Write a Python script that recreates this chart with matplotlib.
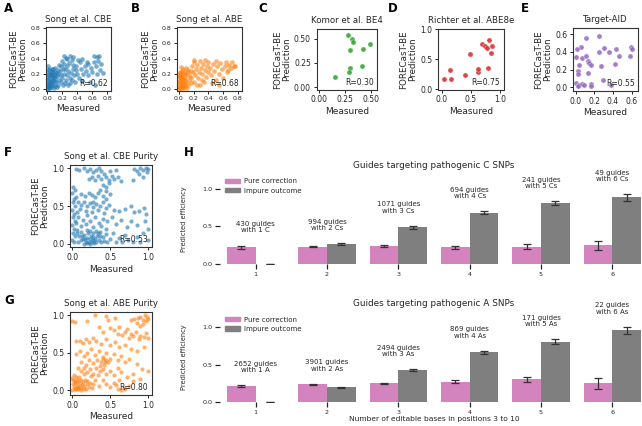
import numpy as np
import matplotlib
matplotlib.use("Agg")
import matplotlib.pyplot as plt
from matplotlib.patches import Patch

W, H = 642, 426
TXT = '#262626'

# ---------------------------------------------------------------
# scatter data
# ---------------------------------------------------------------
cbe_pts = [
    (0.0, 0.0), (0.01, 0.02), (0.02, 0.05), (0.0, 0.08), (0.03, 0.1), (0.01, 0.13), (0.04, 0.15),
    (0.02, 0.18), (0.05, 0.2), (0.0, 0.22), (0.03, 0.25), (0.06, 0.27), (0.01, 0.3), (0.05, 0.03),
    (0.07, 0.07), (0.08, 0.12), (0.06, 0.16), (0.09, 0.19), (0.1, 0.23), (0.08, 0.26), (0.11, 0.04),
    (0.12, 0.09), (0.1, 0.14), (0.13, 0.17), (0.12, 0.21), (0.14, 0.25), (0.04, 0.01), (0.09, 0.01),
    (0.13, 0.03), (0.02, 0.11), (0.07, 0.22), (0.11, 0.28), (0.15, 0.06), (0.16, 0.12), (0.15, 0.2),
    (0.0, 0.16), (0.04, 0.06), (0.06, 0.11), (0.03, 0.2), (0.09, 0.16), (0.01, 0.06), (0.05, 0.09),
    (0.07, 0.18), (0.02, 0.27), (0.08, 0.05), (0.11, 0.11), (0.03, 0.03), (0.06, 0.23),
    (0.18, 0.1), (0.2, 0.15), (0.17, 0.24), (0.22, 0.2), (0.19, 0.3), (0.24, 0.27), (0.21, 0.05),
    (0.25, 0.12), (0.27, 0.18), (0.23, 0.33), (0.28, 0.24), (0.3, 0.15), (0.26, 0.3), (0.32, 0.21),
    (0.29, 0.34), (0.31, 0.08), (0.34, 0.27), (0.33, 0.12), (0.36, 0.19), (0.35, 0.32), (0.38, 0.25),
    (0.37, 0.1), (0.4, 0.2), (0.39, 0.3), (0.2, 0.37), (0.25, 0.41), (0.22, 0.43), (0.3, 0.43),
    (0.35, 0.42), (0.33, 0.38), (0.27, 0.39), (0.18, 0.18), (0.21, 0.26), (0.16, 0.32), (0.24, 0.08),
    (0.28, 0.05),
    (0.42, 0.15), (0.45, 0.27), (0.44, 0.35), (0.48, 0.2), (0.5, 0.3), (0.47, 0.11), (0.52, 0.24),
    (0.55, 0.18), (0.53, 0.36), (0.58, 0.28), (0.6, 0.22), (0.62, 0.35), (0.63, 0.43), (0.65, 0.3),
    (0.67, 0.42), (0.68, 0.37), (0.7, 0.25), (0.66, 0.2), (0.72, 0.33), (0.75, 0.21), (0.57, 0.1),
    (0.64, 0.06), (0.69, 0.43), (0.46, 0.4), (0.41, 0.38), (0.55, 0.33),
]
abe_pts = [
    (0.0, 0.0), (0.01, 0.03), (0.0, 0.06), (0.02, 0.09), (0.01, 0.12), (0.03, 0.15), (0.0, 0.18),
    (0.02, 0.21), (0.04, 0.24), (0.05, 0.02), (0.06, 0.06), (0.04, 0.1), (0.07, 0.13), (0.05, 0.17),
    (0.08, 0.2), (0.06, 0.26), (0.09, 0.04), (0.1, 0.09), (0.08, 0.15), (0.11, 0.18), (0.12, 0.22),
    (0.1, 0.28), (0.13, 0.06), (0.14, 0.12), (0.03, 0.04), (0.07, 0.01), (0.11, 0.02), (0.02, 0.16),
    (0.09, 0.11), (0.01, 0.22), (0.15, 0.17), (0.13, 0.25), (0.03, 0.29), (0.06, 0.2), (0.16, 0.08),
    (0.04, 0.07), (0.0, 0.1), (0.02, 0.01), (0.05, 0.13), (0.07, 0.07), (0.03, 0.19), (0.09, 0.22),
    (0.01, 0.16), (0.06, 0.03),
    (0.17, 0.14), (0.19, 0.22), (0.18, 0.3), (0.21, 0.1), (0.22, 0.18), (0.23, 0.26), (0.2, 0.35),
    (0.25, 0.31), (0.26, 0.15), (0.27, 0.22), (0.28, 0.37), (0.3, 0.28), (0.31, 0.12), (0.32, 0.2),
    (0.33, 0.33), (0.35, 0.25), (0.36, 0.38), (0.37, 0.16), (0.38, 0.3), (0.4, 0.22), (0.24, 0.06),
    (0.29, 0.05), (0.34, 0.09), (0.21, 0.38), (0.16, 0.24), (0.39, 0.35),
    (0.42, 0.28), (0.44, 0.18), (0.46, 0.33), (0.48, 0.24), (0.5, 0.12), (0.52, 0.3), (0.54, 0.2),
    (0.56, 0.34), (0.58, 0.26), (0.6, 0.15), (0.62, 0.3), (0.64, 0.35), (0.66, 0.25), (0.68, 0.32),
    (0.7, 0.28), (0.72, 0.35), (0.74, 0.3), (0.76, 0.3), (0.45, 0.08), (0.55, 0.06), (0.65, 0.22),
    (0.5, 0.37),
]
be4_x = [0.16, 0.283, 0.32, 0.33, 0.30, 0.42, 0.49, 0.30, 0.293, 0.414]
be4_y = [0.10, 0.54, 0.50, 0.47, 0.38, 0.39, 0.45, 0.20, 0.16, 0.22]

abe8e_x = [0.045, 0.14, 0.165, 0.41, 0.485, 0.63, 0.63, 0.69, 0.75, 0.78, 0.82, 0.86, 0.845, 0.80]
abe8e_y = [0.17, 0.32, 0.17, 0.24, 0.59, 0.29, 0.34, 0.76, 0.72, 0.68, 0.82, 0.72, 0.60, 0.35]

taid_x = [0.054, 0.018, 0.108, 0.252, 0.30, 0.353, 0.432, 0.252, 0.595, 0.61, 0.468, 0.007, 0.065,
          0.115, 0.133, 0.036, 0.137, 0.162, 0.267, 0.42, 0.58, 0.025, 0.025, 0.133, 0.0, 0.036,
          0.025, 0.065, 0.09, 0.162, 0.162, 0.29, 0.378]
taid_y = [0.454, 0.435, 0.559, 0.585, 0.44, 0.405, 0.435, 0.40, 0.454, 0.43, 0.36, 0.341, 0.337,
          0.356, 0.30, 0.255, 0.28, 0.257, 0.243, 0.266, 0.36, 0.18, 0.153, 0.16, 0.048, 0.026,
          0.018, 0.037, 0.026, 0.04, 0.02, 0.079, 0.03]

cbe_pur_pts = [
    (0.05, 0.99), (0.09, 0.98), (0.16, 1.0), (0.2, 0.97), (0.24, 0.99), (0.28, 0.95), (0.31, 0.98),
    (0.35, 1.0), (0.38, 0.97), (0.42, 0.93), (0.5, 0.96), (0.58, 0.98), (0.82, 0.99), (0.86, 0.97),
    (0.9, 1.0), (0.94, 0.98), (0.97, 1.0), (1.0, 0.99), (0.99, 0.95), (0.88, 0.93),
    (0.22, 0.86), (0.26, 0.88), (0.3, 0.84), (0.34, 0.9), (0.38, 0.86), (0.44, 0.88), (0.48, 0.85),
    (0.52, 0.9), (0.55, 0.86), (0.6, 0.88), (0.65, 0.83), (0.4, 0.78), (0.44, 0.75), (0.48, 0.8),
    (0.93, 0.88), (0.8, 0.85), (0.36, 0.72),
    (0.01, 0.75), (0.03, 0.72), (0.0, 0.68), (0.02, 0.6), (0.01, 0.55), (0.03, 0.5), (0.0, 0.45),
    (0.02, 0.4), (0.01, 0.35), (0.03, 0.3), (0.0, 0.25), (0.02, 0.2), (0.01, 0.15), (0.03, 0.1),
    (0.0, 0.05), (0.02, 0.02), (0.05, 0.62), (0.06, 0.42), (0.05, 0.28), (0.06, 0.18),
    (0.12, 0.66), (0.17, 0.63), (0.22, 0.68), (0.26, 0.65), (0.3, 0.62), (0.34, 0.67), (0.4, 0.64),
    (0.45, 0.6), (0.5, 0.66), (0.28, 0.56), (0.45, 0.7),
    (0.08, 0.55), (0.12, 0.52), (0.16, 0.56), (0.2, 0.5), (0.24, 0.54), (0.28, 0.49), (0.32, 0.53),
    (0.36, 0.5), (0.4, 0.55), (0.44, 0.48), (0.48, 0.52), (0.1, 0.46), (0.18, 0.44), (0.26, 0.42),
    (0.34, 0.45), (0.42, 0.41), (0.55, 0.45), (0.62, 0.43), (0.7, 0.46), (0.78, 0.5), (0.82, 0.42),
    (0.88, 0.44), (0.95, 0.48), (0.98, 0.4),
    (0.08, 0.36), (0.14, 0.32), (0.2, 0.38), (0.24, 0.3), (0.3, 0.35), (0.35, 0.28), (0.4, 0.33),
    (0.46, 0.3), (0.52, 0.36), (0.58, 0.26), (0.64, 0.32), (0.72, 0.22), (0.78, 0.3), (0.85, 0.25),
    (0.96, 0.3), (0.12, 0.24), (0.18, 0.27), (0.28, 0.22), (0.38, 0.24), (0.45, 0.2), (1.0, 0.2),
    (0.06, 0.14), (0.09, 0.1), (0.12, 0.16), (0.14, 0.06), (0.16, 0.12), (0.18, 0.03), (0.2, 0.08),
    (0.21, 0.15), (0.22, 0.02), (0.24, 0.06), (0.25, 0.11), (0.26, 0.03), (0.28, 0.14), (0.3, 0.07),
    (0.32, 0.02), (0.33, 0.11), (0.35, 0.05), (0.37, 0.16), (0.38, 0.02), (0.4, 0.09), (0.42, 0.04),
    (0.44, 0.13), (0.46, 0.02), (0.5, 0.06), (0.54, 0.15), (0.58, 0.03), (0.62, 0.08), (0.66, 0.02),
    (0.7, 0.12), (0.74, 0.05), (0.8, 0.03), (0.86, 0.09), (0.9, 0.02), (0.94, 0.14), (1.0, 0.05),
    (0.08, 0.02), (0.11, 0.05), (0.15, 0.0), (0.19, 0.18), (0.23, 0.0), (0.27, 0.09), (0.29, 0.01),
    (0.31, 0.17), (0.36, 0.1), (0.13, 0.1), (0.17, 0.07), (0.2, 0.01), (0.24, 0.17), (0.28, 0.05),
    (0.34, 0.14),
]
abe_pur_pts = [
    (0.0, 0.92), (0.03, 0.91), (0.2, 0.92), (0.3, 1.0), (0.45, 0.99), (0.47, 0.94), (0.56, 0.96),
    (0.78, 0.93), (0.82, 0.95), (0.85, 0.9), (0.87, 0.96), (0.9, 0.98), (0.93, 0.94), (0.96, 1.0),
    (0.99, 0.98), (0.98, 0.92), (1.0, 0.95), (0.94, 0.88), (0.9, 0.86),
    (0.5, 0.83), (0.55, 0.8), (0.6, 0.75), (0.62, 0.84), (0.66, 0.74), (0.7, 0.77), (0.72, 0.81),
    (0.75, 0.7), (0.78, 0.75), (0.8, 0.72), (0.84, 0.78), (0.88, 0.68), (0.9, 0.72), (0.95, 0.71),
    (1.0, 0.7), (0.98, 0.76), (0.4, 0.78), (0.35, 0.84),
    (0.05, 0.65), (0.1, 0.66), (0.14, 0.63), (0.18, 0.68), (0.22, 0.64), (0.27, 0.7), (0.32, 0.66),
    (0.38, 0.62), (0.44, 0.68), (0.5, 0.6), (0.56, 0.64), (0.62, 0.58), (0.7, 0.6), (0.78, 0.55),
    (0.86, 0.52), (0.95, 0.58),
    (0.05, 0.48), (0.1, 0.52), (0.15, 0.45), (0.2, 0.5), (0.25, 0.55), (0.3, 0.47), (0.35, 0.52),
    (0.4, 0.44), (0.45, 0.5), (0.5, 0.42), (0.55, 0.48), (0.6, 0.4), (0.65, 0.45), (0.7, 0.38),
    (0.75, 0.42), (0.85, 0.35), (0.12, 0.38), (0.18, 0.34), (0.22, 0.4), (0.28, 0.36), (0.33, 0.4),
    (0.38, 0.38), (0.42, 0.34), (0.47, 0.38), (0.36, 0.32), (0.44, 0.4), (0.4, 0.42), (0.43, 0.37),
    (0.08, 0.3), (0.12, 0.26), (0.16, 0.3), (0.2, 0.24), (0.24, 0.28), (0.28, 0.22), (0.32, 0.3),
    (0.36, 0.25), (0.4, 0.28), (0.45, 0.22), (0.5, 0.26), (0.55, 0.2), (0.6, 0.3), (0.65, 0.24),
    (0.72, 0.18), (0.8, 0.22), (0.92, 0.28), (0.15, 0.22), (0.25, 0.19), (0.34, 0.2),
    (0.0, 0.0), (0.02, 0.04), (0.01, 0.08), (0.03, 0.12), (0.0, 0.16), (0.02, 0.2), (0.05, 0.02),
    (0.06, 0.06), (0.04, 0.1), (0.07, 0.14), (0.05, 0.18), (0.08, 0.01), (0.09, 0.05), (0.1, 0.09),
    (0.11, 0.13), (0.09, 0.17), (0.12, 0.03), (0.13, 0.07), (0.14, 0.11), (0.15, 0.02), (0.16, 0.06),
    (0.17, 0.14), (0.18, 0.01), (0.19, 0.08), (0.2, 0.12), (0.22, 0.04), (0.24, 0.1), (0.26, 0.03),
    (0.28, 0.08), (0.3, 0.13), (0.03, 0.01), (0.07, 0.03), (0.01, 0.13), (0.11, 0.0), (0.06, 0.11),
    (0.35, 0.06), (0.45, 0.08), (0.5, 0.04), (0.55, 0.1), (0.6, 0.02), (0.65, 0.0), (0.68, 0.03),
    (0.7, 0.01), (0.75, 0.06), (0.8, 0.12), (0.62, 0.13), (0.58, 0.07), (0.4, 0.14), (0.9, 0.15),
    (1.0, 0.25),
]

# ---------------------------------------------------------------
# bar data (panel H)
# ---------------------------------------------------------------
n_bases = ['1', '2', '3', '4', '5', '6']
c_pure = [0.22, 0.23, 0.24, 0.22, 0.23, 0.25]
c_pure_err = [0.025, 0.01, 0.013, 0.018, 0.033, 0.06]
c_impure = [0.0, 0.26, 0.49, 0.68, 0.81, 0.885]
c_impure_err = [0.0, 0.013, 0.02, 0.02, 0.025, 0.044]
c_counts = [430, 994, 1071, 694, 241, 49]

a_pure = [0.216, 0.238, 0.255, 0.273, 0.308, 0.25]
a_pure_err = [0.013, 0.011, 0.007, 0.018, 0.033, 0.073]
a_impure = [0.0, 0.198, 0.427, 0.665, 0.806, 0.956]
a_impure_err = [0.0, 0.007, 0.011, 0.022, 0.037, 0.05]
a_counts = [2652, 3901, 2494, 869, 171, 22]

PINK = '#d383bd'
GRAY = '#7f7f7f'

plt.rcParams['font.family'] = 'DejaVu Sans'
plt.rcParams['text.color'] = TXT
plt.rcParams['axes.labelcolor'] = TXT
plt.rcParams['xtick.color'] = TXT
plt.rcParams['ytick.color'] = TXT

fig = plt.figure(figsize=(W / 100, H / 100), dpi=100)


def px(x0, y0, x1, y1):
    return [x0 / W, 1 - y1 / H, (x1 - x0) / W, (y1 - y0) / H]


def scatter_panel(rect, x, y, color, title, r, xlim, ylim, ticks, big=False, tfs=5.5, s=9):
    ax = fig.add_axes(px(*rect))
    if big:
        ax.scatter(x, y, s=14, color=color, alpha=0.85, edgecolors='white', linewidths=0.3)
    else:
        ax.scatter(x, y, s=s, color=color, alpha=0.6, linewidths=0)
    ax.set_xlim(*xlim)
    ax.set_ylim(*ylim)
    ax.set_xticks(ticks[0])
    ax.set_yticks(ticks[1])
    ax.tick_params(labelsize=tfs, length=2.5, width=0.7, pad=1.5)
    for sp in ax.spines.values():
        sp.set_color('#333333')
        sp.set_linewidth(0.8)
    ax.set_title(title, fontsize=6.2, pad=4)
    ax.set_xlabel('Measured', fontsize=6.5, labelpad=2)
    ax.set_ylabel('FORECasT-BE\nPrediction', fontsize=6.3, labelpad=2, linespacing=1.0)
    ax.text(0.95, 0.04, 'R=%.2f' % r, transform=ax.transAxes, ha='right', va='bottom', fontsize=5.5)
    return ax


def split(pts):
    return [p[0] for p in pts], [p[1] for p in pts]


t8 = [0.0, 0.2, 0.4, 0.6, 0.8]
cx, cy = split(cbe_pts)
scatter_panel((45.7, 27.3, 111, 90.7), cx, cy, 'tab:blue', 'Song et al. CBE', 0.62,
              (-0.02, 0.85), (-0.02, 0.81), (t8, t8), tfs=4.5, s=11)
bx, by = split(abe_pts)
scatter_panel((177.3, 27.3, 241.7, 90.7), bx, by, 'tab:orange', 'Song et al. ABE', 0.68,
              (-0.02, 0.85), (-0.02, 0.81), (t8, t8), tfs=4.5, s=11)
scatter_panel((316.5, 29, 377, 89.5), be4_x, be4_y, 'tab:green', 'Komor et al. BE4', 0.30,
              (-0.02, 0.555), (-0.025, 0.6), ([0.0, 0.25, 0.5], [0.0, 0.25, 0.5]), big=True)
scatter_panel((438, 29, 503.5, 89.5), abe8e_x, abe8e_y, 'tab:red', 'Richter et al. ABE8e', 0.75,
              (-0.06, 1.06), (-0.005, 1.005), ([0.0, 0.5, 1.0], [0.0, 0.5, 1.0]), big=True)
scatter_panel((573, 28, 638, 91), taid_x, taid_y, 'tab:purple', 'Target-AID', 0.55,
              (-0.03, 0.67), (-0.04, 0.67), ([0.0, 0.2, 0.4, 0.6], [0.0, 0.2, 0.4, 0.6]), big=True)
fx, fy = split(cbe_pur_pts)
scatter_panel((70, 165, 151.7, 247.3), fx, fy, 'tab:blue', 'Song et al. CBE Purity', 0.53,
              (-0.03, 1.05), (-0.045, 1.045), ([0.0, 0.5, 1.0], [0.0, 0.5, 1.0]), tfs=5.5)
gx, gy = split(abe_pur_pts)
scatter_panel((70, 311.7, 151.7, 395), gx, gy, 'tab:orange', 'Song et al. ABE Purity', 0.80,
              (-0.03, 1.05), (-0.065, 1.045), ([0.0, 0.5, 1.0], [0.0, 0.5, 1.0]), tfs=5.5)


def bar_panel(rect, pure, pure_err, impure, impure_err, counts, base, title, xlabel=None):
    ax = fig.add_axes(px(*rect))
    xs = np.arange(len(n_bases))
    ax.bar(xs - 0.2, pure, width=0.4, color=PINK, label='Pure correction')
    ax.bar(xs + 0.2, impure, width=0.4, color=GRAY, label='Impure outcome')
    ax.errorbar(xs - 0.2, pure, yerr=pure_err, fmt='none', ecolor='#333333', elinewidth=0.9,
                capsize=3.2, capthick=0.9)
    ax.errorbar(xs + 0.2, impure, yerr=impure_err, fmt='none', ecolor='#333333', elinewidth=0.9,
                capsize=3.2, capthick=0.9)
    for i in range(len(n_bases)):
        top = max(pure[i] + pure_err[i], impure[i] + impure_err[i])
        k = i + 1
        lab = '%d guides\nwith %d %s%s' % (counts[i], k, base, '' if k == 1 else 's')
        ax.text(xs[i], top + 0.16, lab, ha='center', va='bottom', fontsize=5.0, linespacing=1.05)
    ax.set_xlim(-0.5, 5.5)
    ax.set_ylim(0, 1.2)
    ax.set_yticks([0.0, 0.5, 1.0])
    ax.set_xticks(xs)
    ax.set_xticklabels(n_bases)
    for sp in ax.spines.values():
        sp.set_visible(False)
    ax.tick_params(labelsize=4.6, length=3.5, width=0.9, pad=2)
    ax.set_title(title, fontsize=6.4, pad=4)
    ax.set_ylabel('Predicted efficiency', fontsize=4.8, labelpad=11)
    if xlabel:
        ax.set_xlabel(xlabel, fontsize=5.4, labelpad=1)
    ax.legend(handles=[Patch(color=PINK, label='Pure correction'),
                       Patch(color=GRAY, label='Impure outcome')],
              loc='upper left', bbox_to_anchor=(0.0, 1.0), frameon=False, fontsize=5.0,
              handlelength=2.2, handleheight=0.55, borderaxespad=0.3, labelspacing=0.45,
              handletextpad=0.6)
    return ax


bar_panel((220, 173.6, 648, 264), c_pure, c_pure_err, c_impure, c_impure_err, c_counts, 'C',
          'Guides targeting pathogenic C SNPs')
bar_panel((220, 312, 648, 402.3), a_pure, a_pure_err, a_impure, a_impure_err, a_counts, 'A',
          'Guides targeting pathogenic A SNPs',
          xlabel='Number of editable bases in positions 3 to 10')

# panel letters
for lab, x, y in [('A', 4, 9), ('B', 131, 9), ('C', 258, 9), ('D', 388, 9), ('E', 521, 9),
                  ('F', 4, 152), ('H', 184, 152), ('G', 4, 300)]:
    fig.text(x / W, 1 - y / H, lab, fontsize=8.5, fontweight='bold', color='black',
             ha='left', va='center')

fig.savefig('out.png', dpi=100)
